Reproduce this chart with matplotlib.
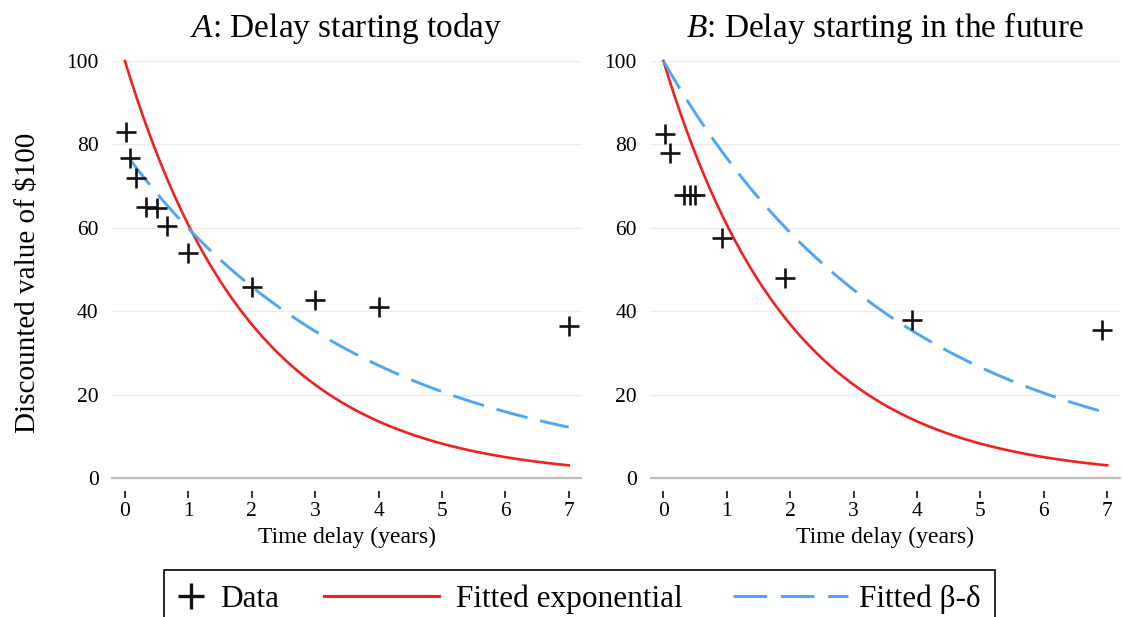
import numpy as np
import matplotlib
matplotlib.use("Agg")
import matplotlib.pyplot as plt
from matplotlib.legend_handler import HandlerLine2D
from matplotlib.lines import Line2D

# ---------------- data ----------------
a_delay = [0.02, 0.08, 0.17, 0.33, 0.5, 0.67, 1, 2, 3, 4, 7]
a_value = [83.0, 76.7, 71.9, 65.1, 64.7, 60.4, 53.9, 45.7, 42.7, 41.0, 36.5]
b_delay = [0.02, 0.1, 0.33, 0.42, 0.5, 0.92, 1.92, 3.92, 6.92]
b_value = [82.6, 78.0, 67.9, 67.9, 67.9, 57.5, 48.0, 37.9, 35.5]

# fitted model parameters
exp_delta = 0.607      # exponential annual discount factor
bd_beta = 0.78         # beta (present bias)
bd_delta = 0.767       # delta of beta-delta model
bd_start_a = 0.08      # beta-delta curve in panel A starts after the first month

panel_titles = [r"$\mathit{A}$: Delay starting today",
                r"$\mathit{B}$: Delay starting in the future"]
x_ticks = [0, 1, 2, 3, 4, 5, 6, 7]
y_ticks = [0, 20, 40, 60, 80, 100]
x_label = "Time delay (years)"
y_label = "Discounted value of $100"
legend_labels = ["Data", "Fitted exponential", "Fitted \u03b2-\u03b4"]

# ---------------- style ----------------
plt.rcParams["font.family"] = ["Liberation Serif", "DejaVu Serif"]
plt.rcParams["mathtext.fontset"] = "custom"
plt.rcParams["mathtext.it"] = "Liberation Serif:italic"
plt.rcParams["mathtext.rm"] = "Liberation Serif"

RED = "#f41f1f"
BLUE = "#4ea6f7"
DASH = (11.0, 4.5)

W, H = 1122, 617
fig = plt.figure(figsize=(W / 100, H / 100), dpi=100)

ax_bottom = 1 - 490.5 / H
ax_height = 433.7 / H
ax_width = 471 / W
axA = fig.add_axes([111 / W, ax_bottom, ax_width, ax_height])
axB = fig.add_axes([649.5 / W, ax_bottom, ax_width, ax_height])

t = np.linspace(0, 7, 300)
tA = np.linspace(bd_start_a, 7, 300)

curves = {
    "A": (100 * exp_delta ** t, tA, 100 * bd_beta * bd_delta ** tA),
    "B": (100 * exp_delta ** t, t, 100 * bd_delta ** t),
}

for ax, key, title, xs, ys in [(axA, "A", panel_titles[0], a_delay, a_value),
                               (axB, "B", panel_titles[1], b_delay, b_value)]:
    exp_curve, tb, bd_curve = curves[key]
    ax.plot(t, exp_curve, color=RED, lw=1.9, zorder=3)
    ax.plot(tb, bd_curve, color=BLUE, lw=2.1, dashes=DASH, zorder=3)
    ax.plot(xs, ys, ls="none", marker="+", ms=14, mew=1.9, color="#111111", zorder=4)

    ax.set_xlim(-0.22, 7.21)
    ax.set_ylim(-3, 101)
    ax.set_xticks(x_ticks)
    ax.set_yticks(y_ticks)
    for s in ax.spines.values():
        s.set_visible(False)
    ax.yaxis.grid(True, color="#ececec", lw=0.9)
    ax.set_axisbelow(True)
    ax.axhline(0, color="#bdbdbd", lw=1.6, zorder=1)
    ax.tick_params(axis="x", length=5, width=1.1, color="black", pad=3.5, labelsize=15.5)
    ax.tick_params(axis="y", length=0, pad=9, labelsize=15.5)
    ax.set_xlabel(x_label, fontsize=17, labelpad=4)
    ax.set_title(title, fontsize=24, pad=14)

fig.text(0.025, 1 - 282.5 / H, y_label, rotation=90, fontsize=21,
         ha="center", va="center")


# ---------------- legend ----------------
class ExtendedLineHandler(HandlerLine2D):
    """Draw the legend line longer than the handle box (extends to the left)."""

    def __init__(self, left_ext, right_ext=0.0, **kw):
        super().__init__(**kw)
        self.left_ext = left_ext
        self.right_ext = right_ext

    def get_xdata(self, legend, xdescent, ydescent, width, height, fontsize):
        x0 = -xdescent + width - self.left_ext * fontsize
        x1 = -xdescent + width + self.right_ext * fontsize
        return [x0, x1], [0.5 * (x0 + x1)]


FS = 22.5
h_data = Line2D([], [], ls="none", marker="+", ms=19, mew=2.4, color="#111111")
h_exp = Line2D([], [], color=RED, lw=2.2)
h_bd = Line2D([], [], color=BLUE, lw=2.2, dashes=DASH)

leg = fig.legend([h_data, h_exp, h_bd], legend_labels,
                 loc="upper left", bbox_to_anchor=(164 / W, 1 - 570 / H),
                 ncol=3, fontsize=FS, frameon=True, fancybox=False,
                 edgecolor="black", framealpha=1, borderpad=0.45,
                 handlelength=0.8, handletextpad=0.55, columnspacing=4.3,
                 borderaxespad=0,
                 handler_map={h_exp: ExtendedLineHandler(3.68),
                              h_bd: ExtendedLineHandler(3.49, 0.19)})
leg.get_frame().set_linewidth(1.2)

fig.savefig("out.png", dpi=100)
